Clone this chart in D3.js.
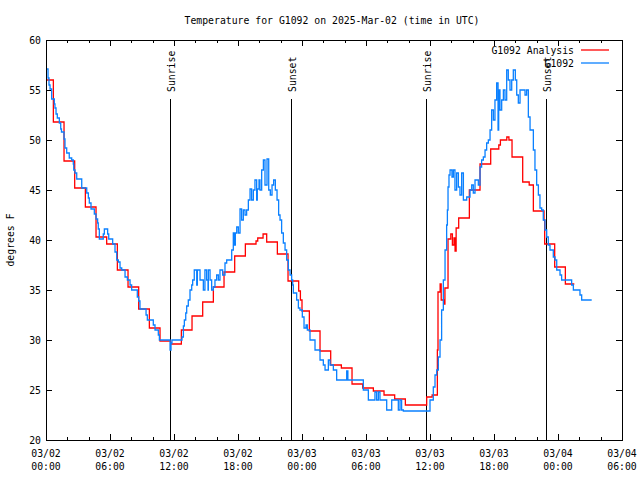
<!DOCTYPE html>
<html>
<head>
<meta charset="utf-8">
<script src="https://cdn.jsdelivr.net/npm/d3@7"></script>
<style>
  html, body { margin: 0; padding: 0; background: #fff; }
  svg { display: block; }
  text { font-family: "DejaVu Sans Mono", "Liberation Mono", monospace; font-size: 11px; fill: #000; }
</style>
</head>
<body>
<svg id="chart" width="640" height="480"></svg>
<script>
// ---------------- DATA ----------------
const titleText = "Temperature for G1092 on 2025-Mar-02 (time in UTC)";
const yLabel = "degrees F";
const seriesNames = ["G1092 Analysis", "G1092"];
const seriesColors = ["#ff0000", "#0a80ff"];
const yTicks = [20, 25, 30, 35, 40, 45, 50, 55, 60];
const xStartUTC = Date.UTC(2025, 2, 2, 0, 0);  // 03/02 00:00 UTC
const xSpanHours = 54;

// sun events (hours after 03/02 00:00 UTC)
const sunEventNames = ["Sunrise", "Sunset", "Sunrise", "Sunset"];
const sunEventHours = [11.62, 22.95, 35.58, 46.9];

// G1092 Analysis (hours after start, deg F) – step values
const analysisHours = [0, 0.69, 1.69, 2.69, 3.69, 4.69, 5.69, 6.69, 7.69, 8.69, 9.69, 10.69, 11.69, 12.69, 13.69, 14.69, 15.69, 16.69, 17.69, 18.69,
  19.69, 19.85, 20.35, 20.69, 21.69, 22.69, 23.69, 23.85, 24.0, 24.69, 25.69, 26.69, 27.69, 28.69, 29.69, 30.69, 31.69, 32.69, 33.69, 35.69,
  36.2, 36.69, 36.75, 36.95, 37.05, 37.3, 37.4, 37.69, 37.95, 38.1, 38.25, 38.35, 38.45, 38.69, 39.69, 40.69, 41.69, 42.45, 42.6, 43.2,
  43.4, 43.69, 44.69, 45.3, 45.69, 46.69, 46.75, 47.69, 48.69, 49.53];
const analysisTemps = [56.0, 51.8, 47.9, 45.2, 43.3, 40.3, 39.6, 37.0, 35.3, 33.1, 31.2, 29.9, 29.6, 31.0, 32.4, 33.8, 35.3, 36.8, 38.4, 39.6,
  39.9, 40.2, 40.6, 39.8, 38.6, 35.9, 34.9, 34.0, 32.9, 30.9, 28.9, 27.5, 27.2, 25.6, 25.2, 24.9, 24.5, 24.1, 23.5, 24.3,
  24.5, 29.0, 34.8, 35.6, 34.0, 33.6, 35.2, 40.1, 40.6, 39.5, 40.2, 38.9, 41.2, 42.2, 45.0, 47.6, 49.1, 49.5, 50.0, 50.3,
  50.0, 48.3, 45.8, 45.5, 42.9, 42.0, 39.6, 37.3, 35.6, 35.6];

// G1092 observations (hours after start, deg F) – step values
const obsHours = [0.00, 0.19, 0.28, 0.38, 0.53, 0.78, 0.84, 0.94, 1.06, 1.25, 1.38, 1.45, 1.69, 1.78, 1.94, 2.18, 2.41, 2.56, 2.60, 2.72,
  2.88, 3.35, 3.82, 3.97, 4.06, 4.22, 4.53, 4.69, 4.84, 4.90, 5.00, 5.37, 5.47, 5.78, 5.88, 6.25, 6.47, 6.63, 6.78, 6.94,
  7.10, 7.41, 7.63, 7.88, 8.03, 8.56, 8.69, 8.81, 9.38, 9.50, 10.06, 10.22, 10.53, 10.63, 11.63, 11.72, 11.81, 12.75, 12.88, 12.97,
  13.10, 13.19, 13.34, 13.50, 13.66, 13.75, 13.90, 14.13, 14.19, 14.44, 14.75, 14.90, 15.06, 15.19, 15.22, 15.38, 15.53, 15.69, 15.84, 16.00,
  16.16, 16.31, 16.56, 16.78, 16.94, 17.41, 17.56, 17.66, 17.75, 17.88, 18.03, 18.19, 18.34, 18.50, 18.66, 18.81, 18.97, 19.13, 19.28, 19.44,
  19.59, 19.75, 19.81, 19.97, 20.06, 20.22, 20.38, 20.53, 20.72, 20.88, 21.03, 21.19, 21.34, 21.50, 21.66, 21.81, 21.94, 22.09, 22.25, 22.41,
  22.56, 22.72, 22.88, 23.03, 23.13, 23.19, 23.50, 23.66, 23.81, 24.03, 24.19, 24.38, 24.50, 24.75, 25.22, 25.69, 26.00, 26.16, 26.47, 26.63,
  26.94, 27.25, 28.19, 28.30, 29.75, 30.22, 30.84, 31.00, 31.16, 31.31, 31.94, 32.41, 33.03, 33.19, 33.34, 33.50, 36.00, 36.31, 36.47, 36.63,
  36.78, 36.94, 37.09, 37.25, 37.41, 37.56, 37.63, 37.69, 37.78, 37.88, 38.06, 38.19, 38.34, 38.50, 38.66, 38.81, 38.97, 39.13, 39.44, 39.75,
  39.91, 40.06, 40.22, 40.53, 40.69, 40.84, 41.00, 41.16, 41.31, 41.47, 41.63, 41.78, 41.94, 42.09, 42.25, 42.38, 42.44, 42.56, 42.72, 42.88,
  43.03, 43.19, 43.34, 43.50, 43.66, 43.81, 44.00, 44.13, 44.28, 44.44, 44.91, 45.06, 45.22, 45.38, 45.69, 45.84, 46.00, 46.16, 46.31, 46.47,
  46.62, 46.78, 46.94, 47.09, 47.25, 47.56, 47.72, 47.88, 48.19, 48.34, 49.28, 49.44, 50.06, 50.22, 51.16];
const obsTemps = [57.1, 56.2, 55.5, 55.1, 54.1, 53.6, 53.2, 52.6, 52.2, 51.7, 51.1, 50.8, 50.1, 49.2, 48.7, 48.2, 48.0, 47.6, 47.0, 46.7,
  46.1, 45.2, 44.7, 44.2, 43.7, 43.1, 42.6, 42.1, 41.7, 41.1, 40.1, 40.6, 41.1, 40.6, 40.1, 39.6, 38.8, 38.0, 37.8, 37.2,
  37.0, 36.3, 36.0, 35.5, 35.0, 34.3, 33.9, 33.1, 32.5, 32.0, 31.5, 31.0, 30.5, 30.0, 29.0, 29.7, 30.0, 30.3, 31.4, 32.0,
  32.7, 33.4, 34.0, 35.0, 35.5, 36.0, 37.0, 35.5, 37.0, 36.0, 35.0, 37.0, 36.0, 35.0, 37.0, 36.0, 35.0, 35.3, 36.0, 36.5,
  36.0, 37.0, 36.5, 37.7, 38.0, 39.0, 40.7, 39.5, 40.7, 41.3, 40.7, 43.1, 42.0, 43.0, 42.5, 43.0, 44.0, 45.1, 44.0, 45.0,
  46.0, 44.0, 45.1, 46.0, 45.0, 47.0, 48.0, 45.5, 48.1, 45.0, 44.5, 45.5, 46.0, 45.0, 44.0, 42.5, 42.0, 40.7, 39.7, 39.0,
  38.0, 37.0, 36.5, 36.0, 35.5, 34.7, 34.0, 33.2, 33.0, 32.3, 31.2, 31.5, 31.0, 30.0, 29.0, 28.0, 27.5, 27.0, 28.0, 27.5,
  27.0, 26.0, 26.9, 26.0, 25.0, 24.0, 24.8, 24.0, 24.8, 24.0, 23.0, 24.0, 23.0, 24.0, 23.0, 22.9, 24.0, 25.3, 26.5, 27.0,
  28.3, 30.0, 33.0, 36.0, 39.0, 41.5, 43.0, 45.3, 46.5, 47.0, 46.3, 47.0, 45.0, 46.7, 45.3, 44.5, 46.7, 44.0, 44.3, 45.0,
  45.5, 44.7, 46.0, 45.5, 47.3, 48.0, 48.3, 49.0, 49.7, 50.0, 51.0, 53.0, 52.0, 54.0, 55.7, 51.0, 55.0, 53.0, 54.0, 55.0,
  54.0, 57.0, 56.0, 55.0, 56.0, 57.0, 56.0, 54.5, 53.7, 55.0, 54.5, 55.0, 52.3, 51.0, 49.0, 47.0, 45.5, 44.5, 43.2, 43.0,
  42.0, 41.0, 40.3, 39.5, 39.0, 38.3, 38.0, 37.0, 36.5, 36.0, 35.5, 35.0, 34.5, 34.0, 34.0];

// ---------------- LAYOUT ----------------
const svg = d3.select("#chart");
const margin = { left: 46, top: 40, right: 18, bottom: 40 };
const W = 640, H = 480;
const x0 = margin.left, x1 = W - margin.right, y0 = margin.top, y1 = H - margin.bottom;

svg.append("rect").attr("width", W).attr("height", H).attr("fill", "#fff");

const toDate = h => new Date(xStartUTC + h * 3600e3);
const x = d3.scaleUtc().domain([toDate(0), toDate(xSpanHours)]).range([x0, x1]);
const y = d3.scaleLinear().domain([20, 60]).range([y1, y0]);

const CW = 5.9; // per-char advance to mimic the narrow bitmap font
function label(g, s, attrs) {
  const t = g.append("text").text(s).attr("textLength", s.length * CW).attr("lengthAdjust", "spacingAndGlyphs");
  for (const k in attrs) t.attr(k, attrs[k]);
  return t;
}

// Title
label(svg, titleText, { x: 332, y: 24, "text-anchor": "middle" });

// Y label
label(svg.append("g").attr("transform", "translate(14,240) rotate(-90)"), yLabel, { x: 0, y: 0, "text-anchor": "middle" });

// ---------------- AXES ----------------
const axes = svg.append("g").attr("shape-rendering", "crispEdges").attr("stroke", "#000").attr("stroke-width", 1);
const majorTicks = d3.utcHour.every(6).range(toDate(0), toDate(xSpanHours + 0.01));
const minorTicks = d3.utcHour.every(2).range(toDate(0), toDate(xSpanHours + 0.01)).filter(d => d.getUTCHours() % 6 !== 0);

majorTicks.forEach(d => {
  const px = Math.round(x(d)) + 0.5;
  axes.append("line").attr("x1", px).attr("x2", px).attr("y1", y1).attr("y2", y1 - 6);
  axes.append("line").attr("x1", px).attr("x2", px).attr("y1", y0).attr("y2", y0 + 6);
});
minorTicks.forEach(d => {
  const px = Math.round(x(d)) + 0.5;
  axes.append("line").attr("x1", px).attr("x2", px).attr("y1", y1).attr("y2", y1 - 3);
  axes.append("line").attr("x1", px).attr("x2", px).attr("y1", y0).attr("y2", y0 + 3);
});
yTicks.forEach(v => {
  const py = Math.round(y(v)) + 0.5;
  axes.append("line").attr("x1", x0).attr("x2", x0 + 6).attr("y1", py).attr("y2", py);
  axes.append("line").attr("x1", x1).attr("x2", x1 - 6).attr("y1", py).attr("y2", py);
});

const fmtDay = d3.utcFormat("%m/%d"), fmtTime = d3.utcFormat("%H:%M");
majorTicks.forEach(d => {
  const px = x(d);
  label(svg, fmtDay(d), { x: px, y: 457, "text-anchor": "middle" });
  label(svg, fmtTime(d), { x: px, y: 470, "text-anchor": "middle" });
});
yTicks.forEach(v => {
  label(svg, String(v), { x: 41, y: y(v) + 4, "text-anchor": "end" });
});

// ---------------- SUN EVENTS ----------------
sunEventHours.forEach((h, i) => {
  const px = Math.round(x(toDate(h))) + 0.5;
  svg.append("line").attr("x1", px).attr("x2", px).attr("y1", 99).attr("y2", y1)
    .attr("stroke", "#000").attr("stroke-width", 1).attr("shape-rendering", "crispEdges");
  label(svg.append("g").attr("transform", `translate(${px + 4.5},92) rotate(-90)`), sunEventNames[i], { x: 0, y: 0, "text-anchor": "start" });
});

// ---------------- SERIES ----------------
const line = d3.line().curve(d3.curveStepAfter).x(d => x(toDate(d[0]))).y(d => y(d[1]));
const analysis = analysisHours.map((h, i) => [h, analysisTemps[i]]);
const obs = obsHours.map((h, i) => [h, obsTemps[i]]);

svg.append("path").datum(analysis).attr("d", line).attr("fill", "none")
  .attr("stroke", seriesColors[0]).attr("stroke-width", 1.3);
svg.append("path").datum(obs).attr("d", line).attr("fill", "none")
  .attr("stroke", seriesColors[1]).attr("stroke-width", 1.3);

// Frame
svg.append("rect").attr("x", x0 + 0.5).attr("y", y0 + 0.5).attr("width", x1 - x0).attr("height", y1 - y0)
  .attr("fill", "none").attr("stroke", "#000").attr("stroke-width", 1).attr("shape-rendering", "crispEdges");

// ---------------- LEGEND ----------------
seriesNames.forEach((name, i) => {
  const ly = 50 + i * 13;
  label(svg, name, { x: 574, y: ly + 4, "text-anchor": "end" });
  svg.append("line").attr("x1", 581).attr("x2", 609).attr("y1", ly).attr("y2", ly)
    .attr("stroke", seriesColors[i]).attr("stroke-width", 1.3);
});
</script>
</body>
</html>
